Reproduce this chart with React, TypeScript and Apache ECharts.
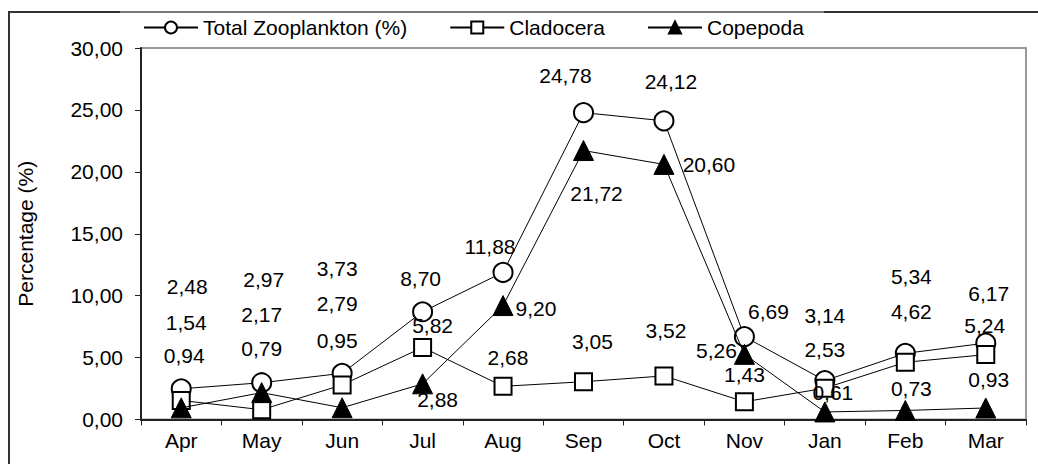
import React, { useEffect, useRef } from "react";
import * as echarts from "echarts";

const months = ["Apr", "May", "Jun", "Jul", "Aug", "Sep", "Oct", "Nov", "Jan", "Feb", "Mar"];
const totalZoo = [2.48, 2.97, 3.73, 8.7, 11.88, 24.78, 24.12, 6.69, 3.14, 5.34, 6.17];
const cladocera = [1.54, 0.79, 2.79, 5.82, 2.68, 3.05, 3.52, 1.43, 2.53, 4.62, 5.24];
const copepoda = [0.94, 2.17, 0.95, 2.88, 9.2, 21.72, 20.6, 5.26, 0.61, 0.73, 0.93];
const seriesNames = ["Total Zooplankton (%)", "Cladocera", "Copepoda"];

// label offsets (px) relative to each marker
const totalOffsets = [[6, -102], [2, -103], [-5, -105], [-2, -33], [-13, -26], [-18, -37], [7, -39], [24, -25], [0, -65], [6, -77], [3, -50]];
const cladOffsets = [[5, -78], [0, -61], [-5, -81], [10, -22], [5, -29], [9, -40], [2, -45], [0, -27], [0, -39], [6, -51], [-1, -29]];
const copeOffsets = [[3, -52], [0, -78], [-5, -67], [15, 16], [33, 3], [13, 43], [45, 0], [-28, -4], [8, -19], [6, -22], [3, -28]];

const FONT = "'Liberation Sans', Arial, sans-serif";
const FS = 21;
const fmt = (v: number) => v.toFixed(2).replace(".", ",");

function buildData(values: number[], offsets: number[][]) {
  return values.map((v, i) => ({ value: v, label: { offset: offsets[i] } }));
}

export default function App() {
  const ref = useRef<HTMLDivElement>(null);
  useEffect(() => {
    if (!ref.current) return;
    const chart = echarts.init(ref.current, undefined, { renderer: "svg" });
    const labelBase = {
      show: true,
      position: "inside",
      align: "center",
      verticalAlign: "middle",
      color: "#000",
      fontSize: FS,
      fontFamily: FONT,
      formatter: (p: any) => fmt(p.value),
    };
    const lineStyle = { color: "#000", width: 1 };
    chart.setOption({
      animation: false,
      backgroundColor: "#fff",
      textStyle: { fontFamily: FONT },
      graphic: [
        { type: "rect", shape: { x: 9, y: 12, width: 1100, height: 500 }, style: { fill: "none", stroke: "#333", lineWidth: 2 }, silent: true },
        { type: "line", shape: { x1: 120, y1: 12, x2: 824, y2: 12 }, style: { stroke: "#777", lineWidth: 2 }, silent: true },
      ],
      legend: {
        left: 143,
        top: 17,
        padding: 0,
        itemWidth: 54,
        itemHeight: 15,
        itemGap: 42,
        textStyle: { color: "#000", fontSize: FS, fontFamily: FONT },
        data: seriesNames,
      },
      grid: {
        left: 141,
        top: 48,
        right: 12,
        bottom: 44.5,
        show: true,
        borderColor: "#999",
        borderWidth: 2,
        backgroundColor: "#fff",
      },
      xAxis: {
        type: "category",
        data: months,
        boundaryGap: true,
        axisLine: { lineStyle: { color: "#222", width: 2 } },
        axisTick: { show: true, length: 6, alignWithLabel: false, lineStyle: { color: "#222", width: 1 } },
        axisLabel: { color: "#000", fontSize: FS, fontFamily: FONT, margin: 10, interval: 0 },
        splitLine: { show: false },
      },
      yAxis: {
        type: "value",
        min: 0,
        max: 30,
        interval: 5,
        name: "Percentage (%)",
        nameLocation: "middle",
        nameGap: 105,
        nameTextStyle: { color: "#000", fontSize: FS, fontFamily: FONT },
        axisLine: { show: true, lineStyle: { color: "#222", width: 2 } },
        axisTick: { show: true, length: 6, lineStyle: { color: "#222", width: 1 } },
        axisLabel: { color: "#000", fontSize: FS, fontFamily: FONT, margin: 18, formatter: (v: number) => fmt(v) },
        splitLine: { show: false },
      },
      series: [
        {
          name: seriesNames[0],
          type: "line",
          data: buildData(totalZoo, totalOffsets),
          symbol: "circle",
          symbolSize: 19,
          lineStyle,
          itemStyle: { color: "#fff", borderColor: "#000", borderWidth: 2 },
          label: labelBase,
          z: 3,
        },
        {
          name: seriesNames[1],
          type: "line",
          data: buildData(cladocera, cladOffsets),
          symbol: "rect",
          symbolSize: 17,
          lineStyle,
          itemStyle: { color: "#fff", borderColor: "#000", borderWidth: 2 },
          label: labelBase,
          z: 4,
        },
        {
          name: seriesNames[2],
          type: "line",
          data: buildData(copepoda, copeOffsets),
          symbol: "triangle",
          symbolSize: 20,
          lineStyle,
          itemStyle: { color: "#000", borderColor: "#000", borderWidth: 1 },
          label: labelBase,
          z: 5,
        },
      ],
    });
    return () => chart.dispose();
  }, []);
  return (
    <div
      ref={ref}
      style={{ position: "absolute", left: 0, top: 0, width: 1038, height: 464, background: "#fff" }}
    />
  );
}
